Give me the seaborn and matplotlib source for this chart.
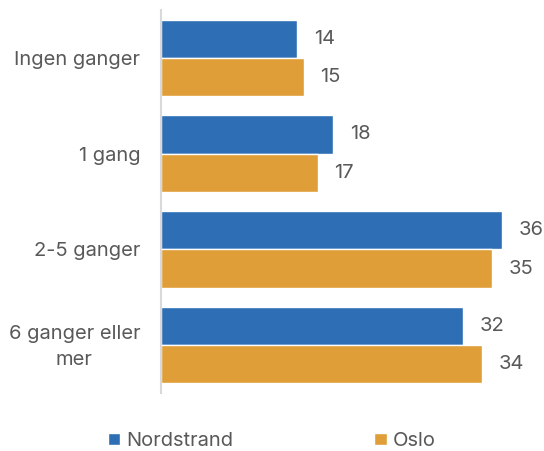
import matplotlib
matplotlib.use("Agg")
import matplotlib.pyplot as plt
import matplotlib.transforms as mtransforms
import seaborn as sns
import pandas as pd

categories = ["Ingen ganger", "1 gang", "2-5 ganger", "6 ganger eller\nmer"]
series_names = ["Nordstrand", "Oslo"]
nordstrand = [14.4, 18.2, 36.1, 32.0]
oslo = [15.1, 16.6, 35.0, 34.0]
colors = ["#2D6EB5", "#DF9E37"]

df = pd.DataFrame({
    "Kategori": categories * 2,
    "Verdi": nordstrand + oslo,
    "Område": [series_names[0]] * 4 + [series_names[1]] * 4,
})

sns.set_theme(style="white")
plt.rcParams["font.family"] = ["Inter", "DejaVu Sans"]
text_color = "#595959"
fs = 14.5

fig = plt.figure(figsize=(5.44, 4.51), dpi=100)
ax = fig.add_axes([161 / 544, 1 - 393 / 451, 378 / 544, 383 / 451])

sns.barplot(data=df, y="Kategori", x="Verdi", hue="Område", order=categories,
            hue_order=series_names, palette=colors, orient="h", width=0.8,
            saturation=1, ax=ax, legend=True)

for cont in ax.containers:
    ax.bar_label(cont, fmt="%.0f", padding=12, fontsize=fs, color=text_color)

ax.set_xlim(0, 40)
ax.set_xlabel("")
ax.set_ylabel("")
ax.set_xticks([])
for s in ["top", "right", "bottom"]:
    ax.spines[s].set_visible(False)
ax.spines["left"].set_color("#D9D9D9")
ax.spines["left"].set_linewidth(1.5)
ax.tick_params(axis="y", length=0, pad=15)
ax.set_yticks(range(len(categories)))
ax.set_yticklabels(categories, fontsize=fs, color=text_color,
                   multialignment="center", linespacing=1.55)
last = ax.get_yticklabels()[-1]
last.set_transform(last.get_transform() +
                   mtransforms.ScaledTranslation(0, 4 / 100, fig.dpi_scale_trans))

handles, labels = ax.get_legend_handles_labels()
ax.get_legend().remove()
leg = fig.legend(handles, labels, loc="center", bbox_to_anchor=(0.5, 1 - 441 / 451),
                 ncol=2, frameon=False, fontsize=fs, handlelength=0.6, handleheight=0.6,
                 handletextpad=0.3, columnspacing=7.0, labelcolor=text_color)

fig.savefig("out.png", dpi=100)
